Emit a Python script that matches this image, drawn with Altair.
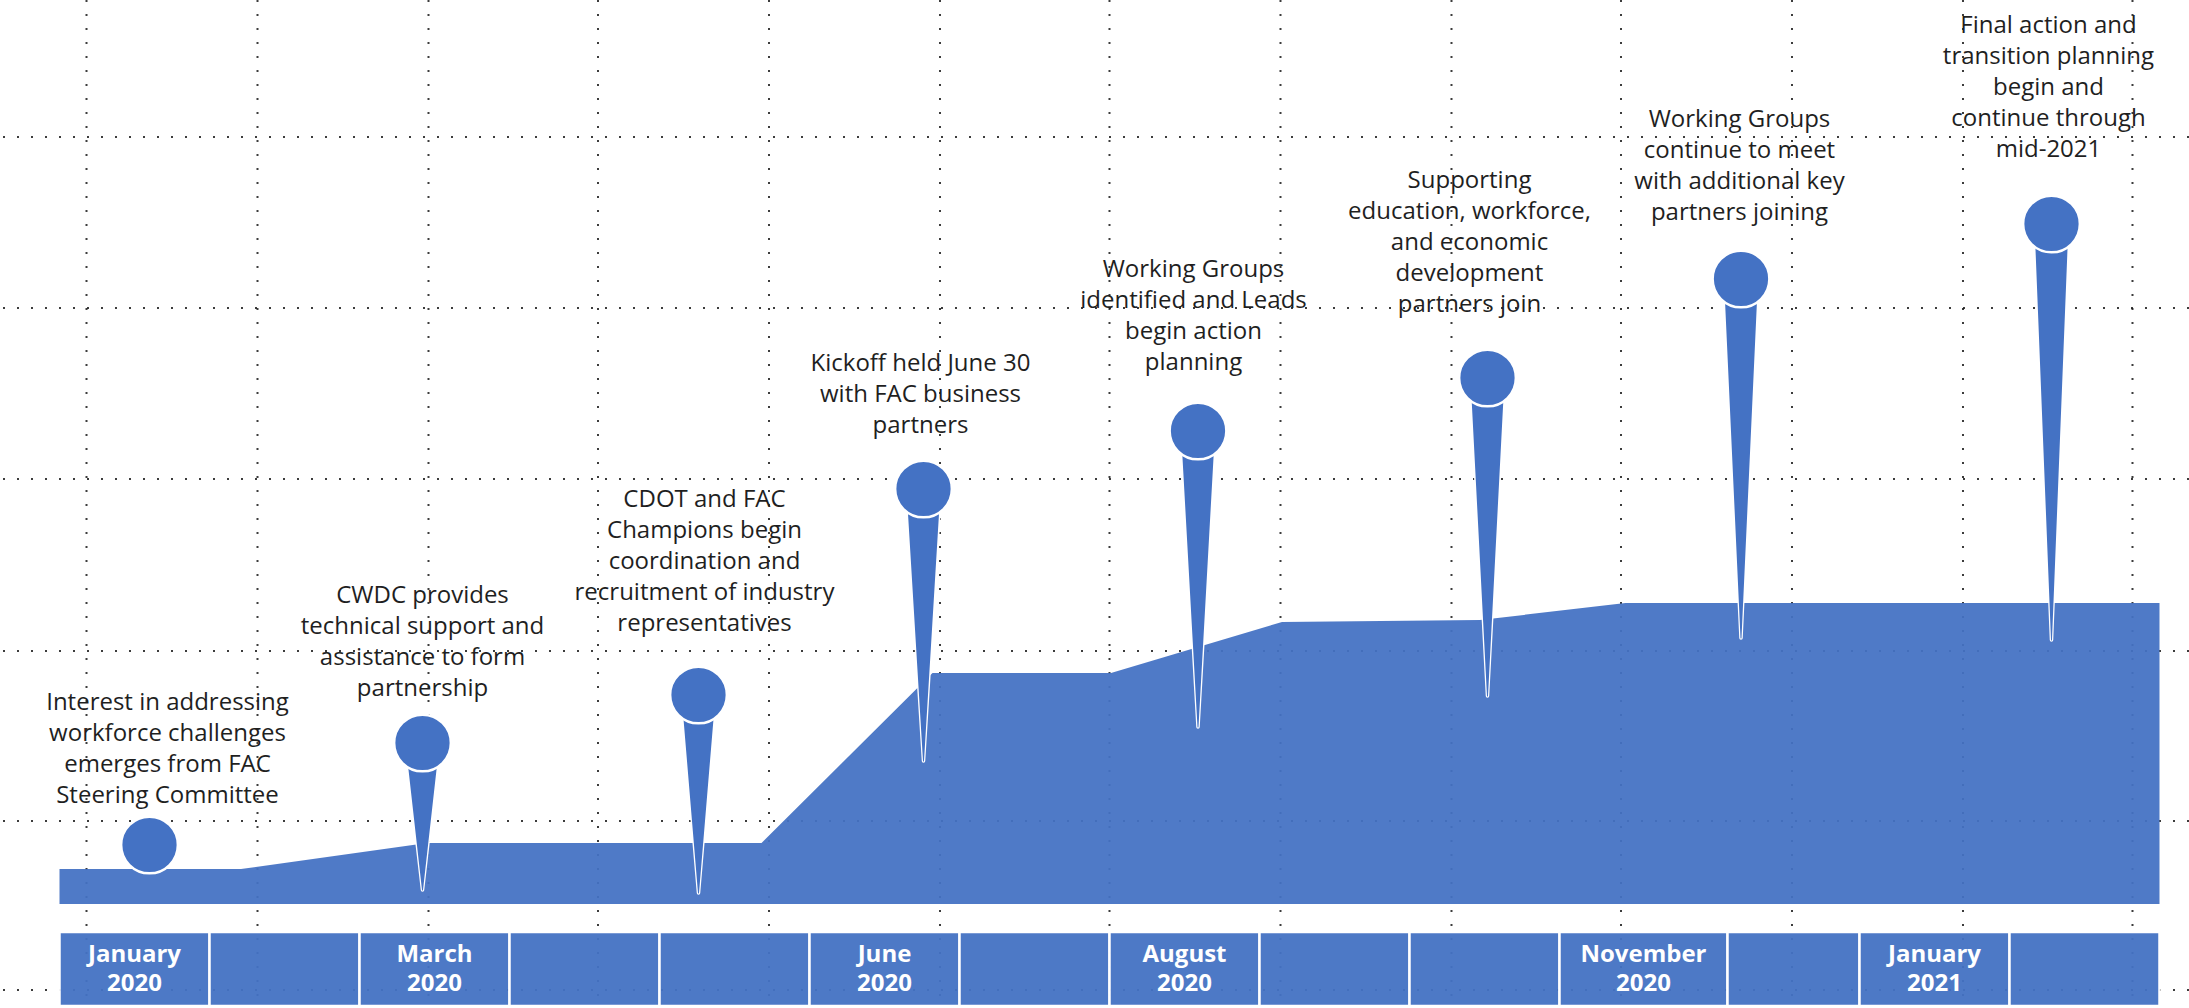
import altair as alt
import pandas as pd

BLUE = "#4472C4"

# ---------------- data ----------------
# month index: 0 = start of January 2020 ... 14 = end of February 2021
cell_labels = ["January\n2020", "", "March\n2020", "", "", "June\n2020", "",
               "August\n2020", "", "", "November\n2020", "", "January\n2021", ""]
cell_start = [0, 1, 2, 3, 4, 5, 6, 7, 8, 9, 10, 11.12, 12, 13]
cell_end = [1, 2, 3, 4, 5, 6, 7, 8, 9, 10, 11.12, 12, 13, 14]

# progress area (month, level)
area_month = [0, 1.21, 2.45, 4.68, 5.82, 7.01, 8.15, 9.47, 10.44, 14]
area_level = [3.5, 3.5, 6.1, 6.1, 23.1, 23.1, 28.2, 28.4, 30.1, 30.1]

# milestone pins
pin_month = [0.60, 2.42, 4.26, 5.76, 7.59, 9.52, 11.21, 13.28]
pin_level = [5.9, 16.1, 20.9, 41.5, 47.3, 52.6, 62.5, 68.0]
pin_tip = [None, 1.4, 1.1, 14.3, 17.7, 20.8, 26.6, 26.4]

milestones = [
    "Interest in addressing\nworkforce challenges\nemerges from FAC\nSteering Committee",
    "CWDC provides\ntechnical support and\nassistance to form\npartnership",
    "CDOT and FAC\nChampions begin\ncoordination and\nrecruitment of industry\nrepresentatives",
    "Kickoff held June 30\nwith FAC business\npartners",
    "Working Groups\nidentified and Leads\nbegin action\nplanning",
    "Supporting\neducation, workforce,\nand economic\ndevelopment\npartners join",
    "Working Groups\ncontinue to meet\nwith additional key\npartners joining",
    "Final action and\ntransition planning\nbegin and\ncontinue through\nmid-2021",
]
label_month = [0.72, 2.42, 4.30, 5.74, 7.56, 9.40, 11.20, 13.26]
# level of each label's first line
label_level = [20.1, 30.8, 40.4, 54.0, 63.4, 72.3, 78.4, 87.8]

# dotted background grid
grid_month = [0.18, 1.32, 2.46, 3.59, 4.73, 5.87, 7.00, 8.14, 9.28, 10.41, 11.55, 12.69, 13.82]
grid_level = [76.7, 59.6, 42.5, 25.3, 8.3, -8.6]

# layout of the month band (in level units)
BAR_TOP = -2.8
BAR_BOTTOM = -10.2
BAR_TEXT = -5.1

# ---------------- tables ----------------
cells = pd.DataFrame({"label": cell_labels, "start": cell_start, "end": cell_end})
cells["mid"] = (cells["start"] + cells["end"]) / 2
cells["top"] = BAR_TOP
cells["bottom"] = BAR_BOTTOM
cells["ty"] = BAR_TEXT
area = pd.DataFrame({"month": area_month, "level": area_level})
area["base"] = 0.0
pins = pd.DataFrame({"month": pin_month, "level": pin_level})
labels = pd.DataFrame({"text": milestones, "month": label_month, "level": label_level})

tail_rows = []
for i, (m, lv, tp) in enumerate(zip(pin_month, pin_level, pin_tip)):
    if tp is None:
        continue
    tail_rows.append({"pin": i, "seq": 0, "month": m, "level": lv, "w": 34.0})
    tail_rows.append({"pin": i, "seq": 1, "month": m, "level": tp, "w": 0.0})
tails = pd.DataFrame(tail_rows)
tails["w_out"] = tails["w"] + 3.5

gx = pd.DataFrame({"month": grid_month})
gy = pd.DataFrame({"level": grid_level})

# ---------------- scales ----------------
xs = alt.Scale(domain=[-0.3967, 14.1967], nice=False, zero=False)
ys = alt.Scale(domain=[-10.4, 90.4], nice=False, zero=False)


def X(f):
    return alt.X(f, type="quantitative", scale=xs, axis=None)


def Y(f):
    return alt.Y(f, type="quantitative", scale=ys, axis=None)


grid_v = alt.Chart(gx).mark_rule(color="#1a1a1a", strokeDash=[2, 12], strokeWidth=2, opacity=0.85).encode(x=X("month"))
grid_h = alt.Chart(gy).mark_rule(color="#1a1a1a", strokeDash=[2, 12], strokeWidth=2, opacity=0.85).encode(y=Y("level"))

area_layer = alt.Chart(area).mark_area(color=BLUE, opacity=0.94).encode(
    x=X("month"), y=Y("level"), y2="base:Q"
)

bar = alt.Chart(cells).mark_rect(color=BLUE, opacity=0.95, stroke="white", strokeWidth=2.5).encode(
    x=X("start"), x2="end:Q", y=Y("top"), y2="bottom:Q"
)
bar_text = alt.Chart(cells).mark_text(
    color="white", font="Open Sans", fontWeight="bold", fontSize=24, lineBreak="\n", lineHeight=29,
    align="center", baseline="middle"
).encode(x=X("mid"), y=Y("ty"), text="label:N")

tail_out = alt.Chart(tails).mark_trail(color="white").encode(
    x=X("month"), y=Y("level"), size=alt.Size("w_out:Q", scale=None, legend=None),
    detail="pin:N", order="seq:Q"
)
tail_in = alt.Chart(tails).mark_trail(color=BLUE).encode(
    x=X("month"), y=Y("level"), size=alt.Size("w:Q", scale=None, legend=None),
    detail="pin:N", order="seq:Q"
)

heads = alt.Chart(pins).mark_circle(color=BLUE, opacity=1, size=3217, stroke="white", strokeWidth=2.5).encode(
    x=X("month"), y=Y("level")
)

texts = alt.Chart(labels).mark_text(
    color="#1f1f1f", font="Open Sans", fontSize=24, lineBreak="\n", lineHeight=31,
    align="center", baseline="middle"
).encode(x=X("month"), y=Y("level"), text="text:N")

chart = alt.layer(
    grid_v, grid_h, area_layer, bar, bar_text, tail_out, tail_in, heads, texts
).properties(
    width=2189, height=1008, padding=0, autosize=alt.AutoSizeParams(type="none"), background="white"
).configure_view(strokeWidth=0)

chart.save("out.html", embed_options={"renderer": "svg", "actions": False})
